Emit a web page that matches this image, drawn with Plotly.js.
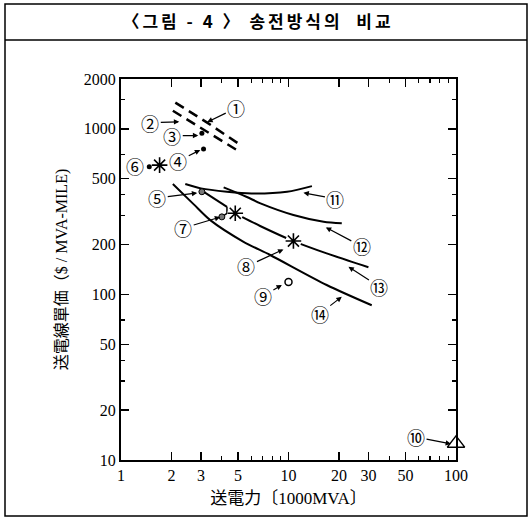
<!DOCTYPE html>
<html><head><meta charset="utf-8">
<script src="https://cdn.plot.ly/plotly-3.0.1.min.js"></script>
<style>body{margin:0;background:#fff}#chart{width:532px;height:524px}.gtitle{letter-spacing:3px}</style>
</head><body><div id="chart"></div>
<script>
// ---- data ----
const c1X=[2.11,3.27,5.18], c1Y=[1441,1090,798];           // ① dashed
const c2X=[2.04,3.04,5.15], c2Y=[1286,1005,724];           // ② dashed
const c11X=[2.42,3.0,4.29,6.0,9.8,13.8], c11Y=[464,437,417,407,417,451];
const c12X=[4.1,5.6,6.8,10.7,16.2,20.8], c12Y=[443,389,355,302,275,269];
const c13aX=[3.04,4.29], c13aY=[423,338];
const c13bX=[4.29,4.29,4.0], c13bY=[338,309,294];
const c13cX=[5.27,6.77,10.7,16.9,30.0], c13cY=[294,259,210,177,146];
const c14X=[2.04,2.71,3.41,5.39,7.77,16.9,31.4], c14Y=[464,351,281,208,173,114,86];
const dotX=[3.04,3.11,1.475], dotY=[939,755,590];           // ③ ④ ⑥ dots
const grayX=[3.04,4.0], grayY=[417,294];                    // ⑤ ⑦ points
const starX=[1.70,4.81,10.7], starY=[604,309,210];          // asterisks ⑥ ⑦ ⑧
const maskX=[4.81,10.7], maskY=[309,210];
const circX=[10.0], circY=[119];                            // ⑨
const triX=[100], triY=[12.6];                              // ⑩
const labels=['①','②','③','④','⑤','⑦','⑧','⑨','⑩','⑪','⑫','⑬','⑭'];
const tipX=[3.273,2.228,2.892,2.972,2.852,3.911,9.33,9.13,93.4,12.28,16.7,22.8,20.8];
const tipY=[1099,1104,911,745,410,293,187,114,12.5,411,254,147,96.8];
const offX=[29,-29,-26,-22,-40,-37,-37,-19,-35,32,36,31,-22];
const offY=[-14,1,0,11,5,11,17,11,-7,6,19,20,17];
const xTickVals=[1,2,3,5,10,20,30,50,100];
const xTickText=['1','2','3','5','10','20','30','50','100'];
const xMinor=[4,6,7,8,9,40,60,70,80,90];
const yTickVals=[10,20,50,100,200,500,1000,2000];
const yTickText=['10','20','50','100','200','500','1000','2000'];
const yMinor=[30,40,70,300,400,700,1500];

const serif='Liberation Serif, Noto Sans CJK JP, serif';
const solid={color:'#000',width:2,shape:'spline',smoothing:0.8};
const traces=[
 {x:c1X,y:c1Y,mode:'lines',line:{color:'#000',width:2.5,dash:'10px,6px'}},
 {x:c2X,y:c2Y,mode:'lines',line:{color:'#000',width:2.5,dash:'10px,6px'}},
 {x:c11X,y:c11Y,mode:'lines',line:solid},
 {x:c12X,y:c12Y,mode:'lines',line:solid},
 {x:c13aX,y:c13aY,mode:'lines',line:solid},
 {x:c13bX,y:c13bY,mode:'lines',line:{color:'#000',width:1.5}},
 {x:c13cX,y:c13cY,mode:'lines',line:solid},
 {x:c14X,y:c14Y,mode:'lines',line:solid},
 {x:maskX,y:maskY,mode:'markers',marker:{symbol:'circle',size:16,color:'#fff'}},
 {x:dotX,y:dotY,mode:'markers',marker:{symbol:'circle',size:5,color:'#000'}},
 {x:grayX,y:grayY,mode:'markers',marker:{symbol:'circle',size:6,color:'#777',line:{color:'#000',width:1}}},
 {x:starX,y:starY,mode:'markers',marker:{symbol:'asterisk-open',size:13,color:'#000',line:{color:'#000',width:1.6}}},
 {x:circX,y:circY,mode:'markers',marker:{symbol:'circle-open',size:7,color:'#000',line:{color:'#000',width:1.5}}},
 {x:triX,y:triY,mode:'markers',marker:{symbol:'triangle-up-open',size:15,color:'#000',line:{color:'#000',width:1.5}}}
];
traces.forEach(t=>{t.showlegend=false;t.hoverinfo='skip';if(t.mode==='markers')t.cliponaxis=false;});

const labFont={family:'Noto Sans CJK JP',size:18,color:'#000'};
const ann=labels.map((t,i)=>({x:Math.log10(tipX[i]),y:Math.log10(tipY[i]),xref:'x',yref:'y',text:t,
  showarrow:true,ax:offX[i],ay:offY[i],arrowhead:2,arrowsize:0.9,arrowwidth:1.2,arrowcolor:'#000',standoff:0,
  font:labFont}));
ann.push({x:Math.log10(1.205),y:Math.log10(596),xref:'x',yref:'y',text:'⑥',showarrow:false,font:labFont});

const L=121,R=456,T=79,B=460,W=532,H=524;
const px=v=>(v-L)/(R-L), py=v=>(B-v)/(B-T);
const layout={
 width:W,height:H,margin:{l:L,r:W-R,t:T,b:H-B,pad:0},
 paper_bgcolor:'#fff',plot_bgcolor:'#fff',
 title:{text:'<b>〈그림 - 4 〉 송전방식의  비교</b>',xref:'container',yref:'container',x:0.485,y:1-22/H,
   xanchor:'center',yanchor:'middle',font:{family:'Noto Sans CJK KR',size:17,color:'#000'}},
 xaxis:{type:'log',range:[0,2],tickmode:'array',tickvals:xTickVals,ticktext:xTickText,ticks:'inside',ticklen:8,tickwidth:1.5,
   tickcolor:'#000',showline:true,linewidth:2,linecolor:'#000',mirror:'allticks',showgrid:false,zeroline:false,
   tickfont:{family:serif,size:16,color:'#000'},
   minor:{tickmode:'array',tickvals:xMinor,ticks:'inside',ticklen:4,tickwidth:1.2,tickcolor:'#000',showgrid:false},
   title:{text:'送電力〔1000MVA〕',font:{family:serif,size:17,color:'#000'},standoff:9}},
 yaxis:{type:'log',range:[1,Math.log10(2000)],tickmode:'array',tickvals:yTickVals,ticktext:yTickText,ticks:'inside',ticklen:8,tickwidth:1.5,
   tickcolor:'#000',showline:true,linewidth:2,linecolor:'#000',mirror:'allticks',showgrid:false,zeroline:false,
   tickfont:{family:serif,size:16,color:'#000'},
   minor:{tickmode:'array',tickvals:yMinor,ticks:'inside',ticklen:4,tickwidth:1.2,tickcolor:'#000',showgrid:false},
   title:{text:'送電線單価（$ / MVA-MILE)',font:{family:serif,size:16,color:'#000'},standoff:12}},
 shapes:[
  {type:'rect',xref:'paper',yref:'paper',x0:px(5),x1:px(527),y0:py(516),y1:py(4),line:{color:'#000',width:1.5}},
  {type:'line',xref:'paper',yref:'paper',x0:px(5),x1:px(527),y0:py(40),y1:py(40),line:{color:'#000',width:1.5}}
 ],
 annotations:ann
};
Plotly.newPlot('chart',traces,layout,{displayModeBar:false,staticPlot:true});
</script></body></html>
